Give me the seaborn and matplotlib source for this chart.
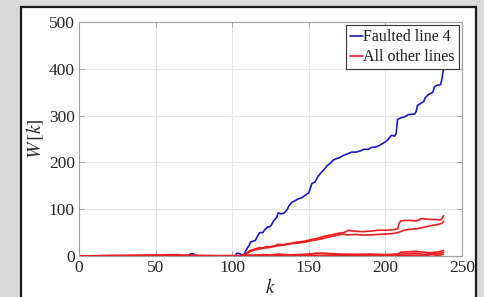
import matplotlib
matplotlib.use("Agg")
import matplotlib.pyplot as plt
import matplotlib.patches as mpatches
import seaborn as sns
import pandas as pd

# ---- data ----
blue_k = [0, 71, 73, 75, 77, 102, 103, 105, 106, 107, 108, 110, 111, 112, 114, 115, 117, 118, 120, 121,
          123, 125, 127, 129, 130, 132, 134, 136, 137, 139, 141, 143, 145, 147, 149, 150, 152, 154, 156,
          158, 160, 162, 164, 166, 168, 170, 172, 175, 178, 181, 184, 186, 189, 191, 194, 196, 198, 200,
          202, 204, 206, 207, 208, 210, 213, 215, 217, 219, 220, 221, 223, 225, 226, 228, 230, 231, 232,
          234, 236, 237, 238]
blue_w = [0, 0, 5, 4, 0, 0, 6, 5, 3, 2, 5, 18, 22, 30, 32, 33, 45, 50, 50, 55,
          62, 63, 75, 82, 92, 90, 92, 100, 107, 115, 118, 122, 124, 128, 133, 135, 155, 158, 170,
          178, 185, 193, 198, 205, 208, 210, 214, 218, 222, 222, 225, 228, 228, 232, 233, 236, 240, 244,
          250, 258, 256, 262, 292, 295, 298, 302, 303, 303, 308, 322, 326, 330, 338, 345, 348, 350, 362,
          365, 366, 380, 402]

redA_k = [0, 30, 60, 64, 68, 100, 106, 108, 110, 112, 114, 116, 118, 120, 122, 125, 128, 130, 133, 136,
          140, 143, 146, 150, 153, 156, 160, 163, 166, 170, 173, 176, 180, 185, 190, 195, 200, 205, 208,
          209, 210, 213, 216, 220, 222, 223, 226, 230, 234, 236, 237, 238]
redA_w = [0, 1, 2, 3, 1, 0, 1, 3, 8, 12, 14, 16, 18, 17, 20, 20, 22, 25, 24, 26,
          28, 30, 31, 34, 36, 38, 42, 44, 46, 49, 50, 55, 53, 52, 53, 55, 55, 56, 58,
          70, 75, 76, 76, 75, 77, 80, 79, 78, 78, 77, 80, 86]

redB_k = [0, 40, 61, 65, 100, 106, 108, 110, 112, 115, 118, 121, 124, 127, 130, 133, 137, 140, 144, 148,
          152, 156, 160, 164, 168, 172, 175, 180, 185, 190, 195, 200, 205, 208, 210, 212, 216, 220, 223,
          226, 230, 234, 237, 238]
redB_w = [0, 1, 3, 2, 0, 0, 2, 6, 10, 13, 15, 17, 18, 20, 22, 23, 25, 27, 28, 30,
          33, 35, 38, 41, 44, 47, 45, 46, 45, 45, 46, 47, 48, 50, 52, 55, 57, 58, 60,
          62, 65, 67, 70, 74]

redC_k = [0, 50, 62, 66, 105, 110, 115, 120, 125, 130, 135, 140, 150, 155, 160, 165, 170, 180, 190, 200,
          208, 210, 215, 220, 225, 230, 235, 238]
redC_w = [0, 0, 2, 0, 0, 2, 1, 3, 2, 4, 3, 2, 3, 6, 5, 4, 3, 3, 4, 3,
          4, 8, 9, 10, 8, 7, 9, 12]

redD_k = [0, 40, 80, 110, 115, 125, 135, 150, 155, 160, 170, 185, 200, 210, 215, 220, 225, 230, 234, 238]
redD_w = [0, 1, 0, 0, 2, 1, 2, 4, 5, 6, 4, 3, 2, 4, 5, 6, 3, 6, 4, 8]

redE_k = [0, 20, 60, 100, 130, 160, 200, 220, 225, 230, 235, 238]
redE_w = [0, 1, 0, 1, 0, 1, 0, 2, 0, 3, 1, 4]

x_ticks = [0, 50, 100, 150, 200, 250]
y_ticks = [0, 100, 200, 300, 400, 500]
legend_labels = ["Faulted line 4", "All other lines"]

# ---- style ----
sns.set_style("whitegrid")
plt.rcParams["font.family"] = ["Liberation Serif", "DejaVu Serif"]
plt.rcParams["mathtext.fontset"] = "stix"

W, H = 484, 297
fig = plt.figure(figsize=(W / 100, H / 100), dpi=100)
fig.patch.set_facecolor("#d9d9d9")
panel = mpatches.Rectangle((21 / W, -0.05), (476 - 21) / W, 1.05 - 7 / H,
                           transform=fig.transFigure, facecolor="white",
                           edgecolor="#1a1a1a", linewidth=1.6, zorder=-10)
fig.patches.append(panel)

ax = fig.add_axes([79 / W, (H - 256) / H, (462 - 79) / W, (256 - 22) / H])
ax.set_zorder(5)
ax.set_facecolor("white")

blue = "#1a1ac4"
red = "#ee1c1c"
lw = 1.2

sns.lineplot(x=blue_k, y=blue_w, ax=ax, color=blue, linewidth=lw, estimator=None,
             sort=False, label=legend_labels[0])
reds = [(redA_k, redA_w), (redB_k, redB_w), (redC_k, redC_w), (redD_k, redD_w), (redE_k, redE_w)]
for i, (kk, ww) in enumerate(reds):
    sns.lineplot(x=kk, y=ww, ax=ax, color=red, linewidth=lw, estimator=None, sort=False,
                 label=legend_labels[1] if i == 0 else None)

ax.set_xlim(0, 250)
ax.set_ylim(0, 500)
ax.set_xticks(x_ticks)
ax.set_yticks(y_ticks)
ax.grid(True, color="#e4e4e4", linewidth=0.8)
for s in ax.spines.values():
    s.set_color("#a0a0a0")
    s.set_linewidth(0.8)
ax.tick_params(direction="in", length=3.5, width=0.7, color="#a0a0a0",
               top=True, right=True, bottom=True, left=True,
               labelsize=12.5, labelcolor="#262626", pad=3)
ax.set_xlabel("$k$", fontsize=14, color="#262626", labelpad=1)
ax.set_ylabel(r"$W\,[k]$", fontsize=14, color="#262626", labelpad=2)

leg = ax.legend(loc="upper right", fontsize=11.5, frameon=True, fancybox=False,
                edgecolor="#333333", framealpha=1, borderpad=0.25, handlelength=0.8,
                handletextpad=0.05, labelspacing=0.25, borderaxespad=0.2)
leg.get_frame().set_linewidth(0.8)
for t in leg.get_texts():
    t.set_color("#1a1a1a")

fig.savefig("out.png", dpi=100, facecolor=fig.get_facecolor())
